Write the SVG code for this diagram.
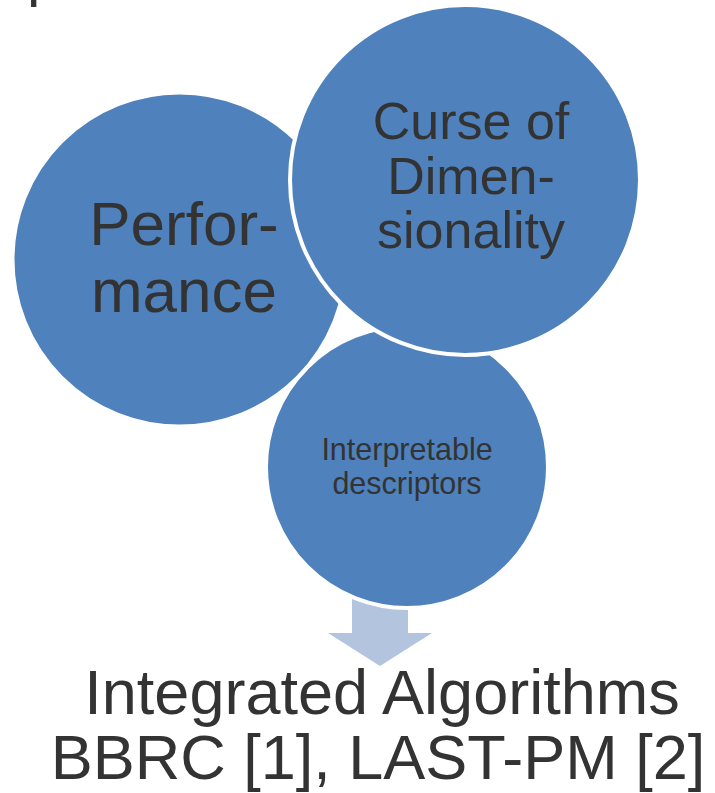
<svg xmlns="http://www.w3.org/2000/svg" width="715" height="793" viewBox="0 0 715 793">
<style>
.c{fill:#4f81bd;stroke:#ffffff;stroke-width:4}
.t{font-family:"Liberation Sans",Arial,sans-serif;fill:#333333;text-anchor:middle}
</style>
<rect width="715" height="793" fill="#ffffff"/>
<text class="t" x="27" y="-5.5" font-size="60" style="text-anchor:start">p</text>
<g id="connectors">
<polygon points="352,596 408,596 408,633 432,633 380,666 328,633 352,633" fill="#b3c4df"/>
</g>
<g id="interpretable">
<circle class="c" cx="407" cy="467" r="141"/>
<text class="t" x="407" y="460" font-size="30.5">Interpretable</text>
<text class="t" x="407" y="494" font-size="30.5">descriptors</text>
</g>
<g id="performance">
<circle class="c" cx="179.5" cy="259.5" r="167"/>
<text class="t" x="184" y="245" font-size="62">Perfor-</text>
<text class="t" x="184" y="312" font-size="62">mance</text>
</g>
<g id="curse">
<circle class="c" cx="465" cy="180" r="175"/>
<text class="t" x="471" y="139" font-size="52">Curse of</text>
<text class="t" x="471" y="194" font-size="52">Dimen-</text>
<text class="t" x="471" y="248" font-size="52">sionality</text>
</g>
<g id="result">
<text class="t" x="382" y="714" font-size="63">Integrated Algorithms</text>
<text class="t" x="378" y="779" font-size="63">BBRC [1], LAST-PM [2]</text>
</g>
</svg>
